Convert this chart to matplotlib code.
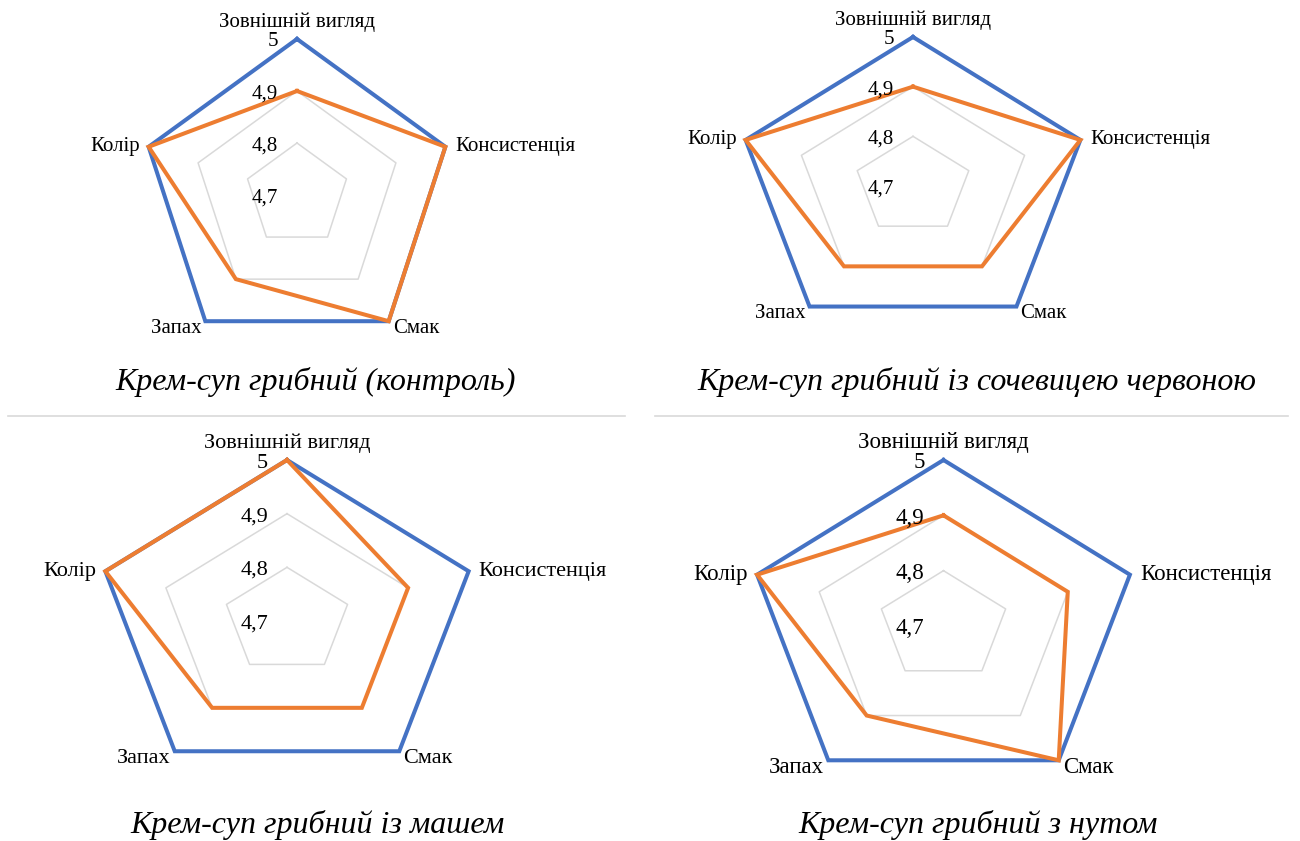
import numpy as np
import matplotlib
matplotlib.use("Agg")
import matplotlib.pyplot as plt
from matplotlib.lines import Line2D

# Sensory profile (5-point scale) of mushroom cream soups
categories = ["Зовнішній вигляд", "Консистенція", "Смак", "Запах", "Колір"]
r_ticks = [4.7, 4.8, 4.9, 5.0]
r_tick_labels = ["4,7", "4,8", "4,9", "5"]

max_scores = [5.0, 5.0, 5.0, 5.0, 5.0]
control = [4.9, 5.0, 5.0, 4.9, 5.0]
with_lentil = [4.9, 5.0, 4.9, 4.9, 5.0]
with_mash = [5.0, 4.9, 4.9, 4.9, 5.0]
with_chickpea = [4.9, 4.9, 5.0, 4.9, 5.0]

titles = [
    "Крем-суп грибний (контроль)",
    "Крем-суп грибний із сочевицею червоною",
    "Крем-суп грибний із машем",
    "Крем-суп грибний з нутом",
]
samples = [control, with_lentil, with_mash, with_chickpea]

BLUE = "#4472C4"
ORANGE = "#ED7D31"
GRID = "#D9D9D9"

W, H = 1300, 841
fig = plt.figure(figsize=(W / 100, H / 100), dpi=100)
fig.patch.set_facecolor("white")

SERIF = ["Liberation Serif", "DejaVu Serif"]

# panel geometry in pixels: centre x, centre y, radius x, radius y, font size
panels = [
    (297, 195, 156, 156, 15),
    (913, 186, 176, 149, 15),
    (287, 621, 191, 161, 16),
    (943.5, 626, 196, 166, 16.5),
]
title_pos = [(316, 382), (977, 382), (317, 825), (978, 825)]

PT = 0.72  # points per pixel at 100 dpi

n = len(categories)
theta = np.arange(n) * 2 * np.pi / n
theta_closed = np.append(theta, theta[0])


def closed(vals):
    return np.append(vals, vals[0])


# label offsets (pixels) and alignment per category
label_style = [
    ((0, 7), "center", "bottom"),
    ((10, 0), "left", "center"),
    ((4, -7), "left", "center"),
    ((-4, -7), "right", "center"),
    ((-9, 0), "right", "center"),
]

for (cx, cy, rx, ry, fs), vals, title, (tx, ty) in zip(panels, samples, titles, title_pos):
    ax = fig.add_axes([(cx - rx) / W, (H - cy - ry) / H, 2 * rx / W, 2 * ry / H],
                      projection="polar")
    ax.set_aspect("auto")
    ax.set_theta_zero_location("N")
    ax.set_theta_direction(-1)
    ax.set_rlim(r_ticks[0], r_ticks[-1])
    ax.grid(False)
    ax.set_xticks([])
    ax.set_yticks([])
    ax.spines["polar"].set_visible(False)
    ax.patch.set_visible(False)

    # pentagonal gridlines
    for lvl in r_ticks[1:-1]:
        ax.plot(theta_closed, [lvl] * (n + 1), color=GRID, lw=1.1, clip_on=False, zorder=1)

    ax.plot(theta_closed, closed(max_scores), color=BLUE, lw=2.9,
            solid_joinstyle="miter", clip_on=False, zorder=3)
    ax.plot(theta_closed, closed(vals), color=ORANGE, lw=2.9,
            solid_joinstyle="miter", clip_on=False, zorder=4)

    # radial value labels along the top spoke
    for lvl, lab in zip(r_ticks, r_tick_labels):
        ax.annotate(lab, xy=(0, lvl), xytext=(-19 * PT, -3 * PT), textcoords="offset points",
                    ha="right", va="center", fontsize=fs, family=SERIF,
                    annotation_clip=False, zorder=5)

    # category labels
    for t, cat, ((ox, oy), ha, va) in zip(theta, categories, label_style):
        ax.annotate(cat, xy=(t, r_ticks[-1]), xytext=(ox * PT, oy * PT),
                    textcoords="offset points", ha=ha, va=va, fontsize=fs,
                    family=SERIF, annotation_clip=False, zorder=5)

    fig.text(tx / W, 1 - ty / H, title, ha="center", va="center", fontsize=23,
             style="italic", family=SERIF)

# horizontal separators between rows
for x0, x1 in [(8, 625), (655, 1288)]:
    fig.add_artist(Line2D([x0 / W, x1 / W], [1 - 416 / H, 1 - 416 / H],
                          color="#D9D9D9", lw=1.2))

fig.savefig("out.png", dpi=100)
